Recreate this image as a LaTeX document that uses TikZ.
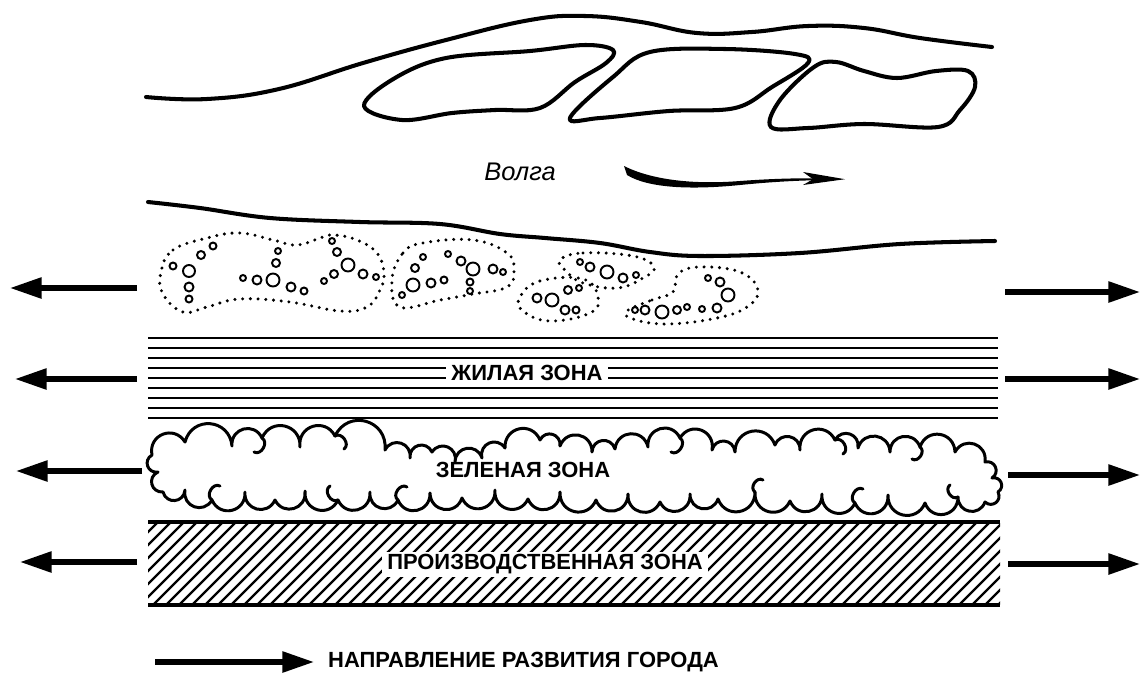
\documentclass[tikz,border=0pt]{standalone}
\usepackage{fontspec}
\setmainfont{Liberation Sans}
\usetikzlibrary{arrows.meta}
\newcommand{\zonefont}{\bfseries\fontsize{12.5}{13}\selectfont}
\begin{document}
\begin{tikzpicture}[x=0.02cm,y=-0.02cm,
  bank/.style={line width=2.3pt,line cap=round,line join=round},
  strip/.style={line width=1.6pt},
  dotline/.style={line width=1.9pt,line cap=round,dash pattern=on 0pt off 4.4pt},
  house/.style={line width=1.1pt},
  cloud/.style={line width=1.7pt,line cap=round,line join=round},
  hatch/.style={line width=1.3pt},
  spread/.style={line width=2.9pt,-{Triangle[length=18pt,width=11.5pt]}},
  zone/.style={fill=white,inner xsep=3pt,inner ysep=1.5pt,font=\zonefont}]
\useasboundingbox (0,0) rectangle (1140,684);

% the river with its islands
\draw[bank] plot[smooth,tension=0.7] coordinates {(146,97) (207,99) (279,89) (363,63)
  (446,40) (530,20) (585,16) (641,22) (697,33) (752,32) (808,26) (864,28) (920,38) (992,47)};
\draw[bank] plot[smooth cycle,tension=0.6] coordinates {(364,106) (395,78) (446,58) (530,51)
  (585,45) (613,50) (606,63) (575,82) (540,108) (495,110) (452,113) (402,120)};
\draw[bank] plot[smooth cycle,tension=0.6] coordinates {(570,118) (613,77) (650,52) (725,49)
  (795,54) (808,63) (772,87) (735,108) (669,111) (600,118)};
\draw[bank] plot[smooth cycle,tension=0.6] coordinates {(771,127) (780,100) (814,67) (836,62)
  (864,71) (897,78) (936,71) (968,71) (975,87) (960,110) (938,127) (864,124) (808,128)};
\draw[bank] plot[smooth,tension=0.6] coordinates {(148,202) (200,208) (270,218) (360,222)
  (440,224) (500,234) (545,238) (600,243) (650,252) (700,256) (800,253) (900,244) (995,241)};

\node[font=\itshape\fontsize{14.5}{15}\selectfont] (volga) at (520,172) {Волга};
\fill (624,166) .. controls (650,179) and (690,185) .. (740,181)
  .. controls (780,178) and (810,178) .. (835,178.5) -- (835,180)
  .. controls (810,180) and (780,181) .. (740,185)
  .. controls (690,190) and (648,188) .. (627,175) -- cycle;
\fill (845,179.2) -- (803,172) -- (813,179.2) -- (803,185) -- cycle;

% settlements along the bank
\draw[dotline] plot[smooth cycle,tension=0.7] coordinates {(161,272) (173,250) (207,238)
  (240,233) (273,240) (297,245) (323,237) (335,235) (357,240) (377,253) (384,273)
  (380,290) (367,307) (340,311) (290,302) (240,299) (207,307) (183,312) (163,294)};
\draw[dotline] plot[smooth cycle,tension=0.7] coordinates {(392,280) (403,253) (423,243)
  (473,240) (507,253) (514,270) (507,287) (473,294) (440,300) (400,307)};
\draw[dotline] plot[smooth cycle,tension=0.7] coordinates {(560,260) (583,253) (633,256)
  (654,267) (643,278) (617,288) (583,283) (566,271)};
\draw[dotline] plot[smooth cycle,tension=0.7] coordinates {(520,297) (540,281) (583,279)
  (598,297) (590,313) (550,321) (523,311)};
\draw[dotline] plot[smooth cycle,tension=0.7] coordinates {(627,311) (652,300) (673,292)
  (678,274) (700,267) (740,272) (758,290) (747,307) (717,318) (667,324) (633,319)};
\foreach \x/\y/\r in {173/266/3.5, 189/271/6, 189/287/4.5, 189/299/3.5, 201/255/4,
  213/246/3.5, 243/278/3, 257/280/4.5, 273/280/6.5, 291/287/4.5, 304/291/3.5,
  278/251/3, 276/263/4, 332/241/3, 337/252/4, 348/265/6.5, 363/274/4.5, 376/277/3,
  334/274/4, 324/281/3,
  423/257/3, 415/268/4, 413/285/6.5, 431/283/4.5, 444/280/3.5, 402/295/3, 448/254/3,
  461/261/4.5, 473/269/6.5, 470/282/3.5, 470/291/3, 493/269/4.5, 503/272/3,
  580/262/3, 590/267/4.5, 607/272/6.5, 623/278/4.5, 636/275/3,
  537/298/4.5, 552/300/6.5, 568/290/4, 579/288/3, 565/310/4.5, 576/310/3.5,
  635/310/3, 645/310/4.5, 662/312/6.5, 677/310/4, 687/307/3, 702/309/3, 717/308/4.5,
  728/295/6.5, 720/282/4.5, 708/278/3}
  \draw[house] (\x,\y) circle (\r);

% residential zone
\foreach \y in {338,348,...,418}
  \draw[strip] (148,\y) -- (998,\y);
\node[zone] (live) at (527,373) {ЖИЛАЯ ЗОНА};

% green zone
\draw[cloud,bend left=80,looseness=1.5] (152,455)
  \foreach \x/\y in {185/442, 232/446, 262/438, 300/447, 335/436, 385/450, 410/458,
    432/452, 455/462, 482/458, 505/448, 540/440, 560/446, 592/452, 615/449, 648/447,
    680/438, 712/450, 735/452, 775/445, 800/450, 835/440, 858/448, 890/452, 920/447,
    955/452, 985/462, 992/478, 998/492, 985/502, 958/497, 925/503, 888/495, 855/503,
    822/494, 790/501, 755/492, 718/499, 690/494, 660/502, 628/494, 596/500, 560/492,
    528/499, 495/490, 462/498, 430/493, 398/500, 370/492, 338/500, 305/491, 275/500,
    245/492, 212/500, 185/490, 163/492, 158/472}
  { to (\x,\y) } to cycle;
\foreach \x/\y/\dx/\dy in {262/438/-8/14, 335/436/9/13, 680/438/-9/14, 835/440/8/14,
  920/447/-8/12, 212/500/8/-14, 338/500/-8/-14, 398/500/9/-13, 755/492/8/-12,
  855/503/8/-14, 958/497/-8/-12}
  \draw[cloud] (\x,\y) to[bend left=90,looseness=1.3] ++(\dx,\dy);
\node[font=\zonefont] (green) at (523,470) {ЗЕЛЕНАЯ ЗОНА};

% industrial zone
\begin{scope}
  \clip (148,522) rectangle (1000,605);
  \foreach \x in {62,75,...,1000}
    \draw[hatch] (\x,605) -- ++(83,-83);
\end{scope}
\draw[line width=2.2pt] (148,522) -- (1000,522) (148,605) -- (1000,605);
\node[zone] (works) at (545,564) {ПРОИЗВОДСТВЕННАЯ ЗОНА};

% growth of the town
\foreach \y/\a/\b in {288/10/137, 379/15/137, 471/16/142, 562/20/137}
  \draw[spread] (\b,\y) -- (\a,\y);
\foreach \y/\a/\b in {292/1005/1140, 379/1005/1140, 475/1008/1140, 564/1008/1140}
  \draw[spread] (\a,\y) -- (\b,\y);
\draw[spread] (155,662) -- (314,662);
\node[anchor=west,font=\zonefont] (legend) at (322,662) {НАПРАВЛЕНИЕ РАЗВИТИЯ ГОРОДА};
\end{tikzpicture}
\end{document}
